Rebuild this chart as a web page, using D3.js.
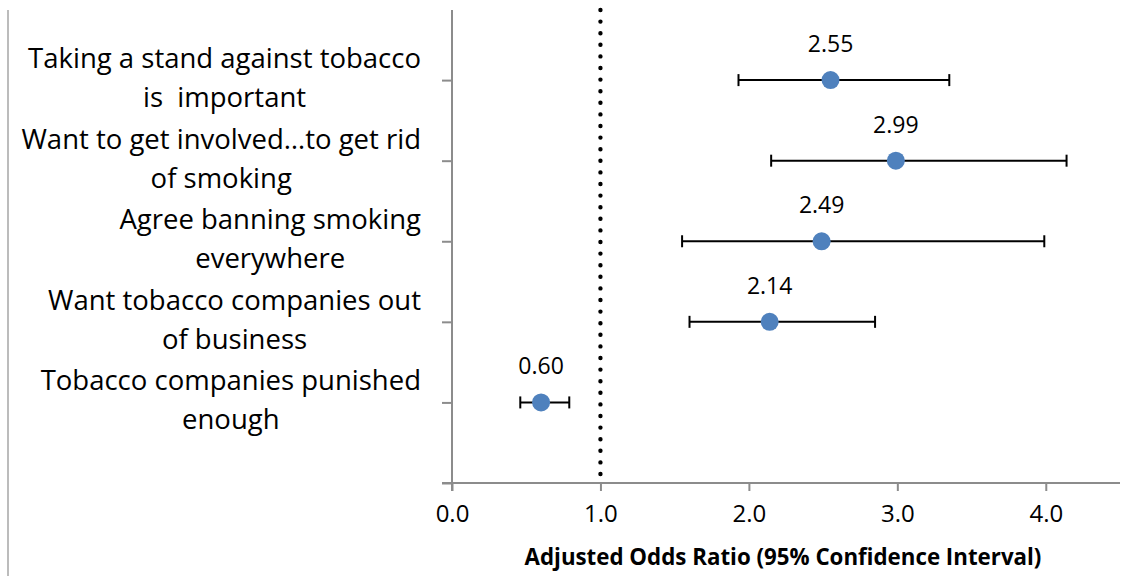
<!DOCTYPE html>
<html>
<head>
<meta charset="utf-8">
<script src="https://cdn.jsdelivr.net/npm/d3@7"></script>
<style>
  body { margin: 0; background: #fff; }
  svg text { font-family: "Open Sans", Lato, sans-serif; fill: #000; }
</style>
</head>
<body>
<svg id="chart" width="1148" height="583"></svg>
<script>
// category labels, one array of lines per row (top to bottom)
const categories = [
    ["Taking a stand against tobacco", "is  important"],
    ["Want to get involved\u2026to get rid", "of smoking"],
    ["Agree banning smoking", "everywhere"],
    ["Want tobacco companies out", "of business"],
    ["Tobacco companies punished", "enough"]
]
const rowPos = [5, 4, 3, 2, 1]
const oddsRatio = [2.55, 2.99, 2.49, 2.14, 0.60]
const ciLower = [1.93, 2.15, 1.55, 1.60, 0.46]
const ciUpper = [3.35, 4.14, 3.99, 2.85, 0.79]
const xTicks = [0, 1, 2, 3, 4]
const yTicks = [0, 1, 2, 3, 4, 5]
const refValue = 1
const xTitle = "Adjusted Odds Ratio (95% Confidence Interval)"

const svg = d3.select('#chart')
const axisColor = '#8c8c8c'

const x = d3.scaleLinear().domain([0, 4.5]).range([452, 1120])
const y = d3.scaleLinear().domain([0, 5.87]).range([483, 10])

// outer frame line on the left
svg.append('line')
    .attr('x1', 8).attr('x2', 8).attr('y1', 10).attr('y2', 576)
    .attr('stroke', '#a6a6a6').attr('stroke-width', 1.5)

// y axis (ticks only, labels drawn separately)
const yAxis = svg.append('g')
    .attr('transform', `translate(${x(0)},0)`)
    .call(d3.axisLeft(y).tickValues(yTicks).tickSize(10).tickSizeOuter(0).tickFormat(''))
yAxis.select('.domain').remove()
yAxis.selectAll('.tick line').attr('stroke', axisColor).attr('stroke-width', 2)
svg.append('line')
    .attr('x1', x(0)).attr('x2', x(0)).attr('y1', y(5.87)).attr('y2', y(0) + 8)
    .attr('stroke', axisColor).attr('stroke-width', 2)

// x axis
const xAxis = svg.append('g')
    .attr('transform', `translate(0,${y(0)})`)
    .call(d3.axisBottom(x).tickValues(xTicks).tickSize(8).tickSizeOuter(0).tickPadding(14).tickFormat(d3.format('.1f')))
xAxis.select('.domain').remove()
xAxis.selectAll('.tick line').attr('stroke', axisColor).attr('stroke-width', 2)
xAxis.selectAll('.tick text').attr('font-size', 24).attr('font-family', '"Open Sans"')
svg.append('line')
    .attr('x1', x(0) - 10).attr('x2', x(4.5)).attr('y1', y(0)).attr('y2', y(0))
    .attr('stroke', axisColor).attr('stroke-width', 2)

// reference line at odds ratio 1
svg.append('line')
    .attr('x1', x(refValue)).attr('x2', x(refValue))
    .attr('y1', y(5.87)).attr('y2', y(0))
    .attr('stroke', '#000').attr('stroke-width', 4.4)
    .attr('stroke-linecap', 'round').attr('stroke-dasharray', '0 11.6')

// category labels: block right-aligned, lines centered inside block
const labelRight = 421
const labelG = svg.append('g')
categories.forEach((lines, i) => {
    const g = labelG.append('g')
    const texts = lines.map((ln, j) => g.append('text')
        .attr('y', y(rowPos[i]) - 12 + j * 39)
        .attr('font-size', 27.5)
        .style('white-space', 'pre')
        .attr('text-anchor', 'middle')
        .text(ln))
    const w = d3.max(texts, t => t.node().getComputedTextLength())
    texts.forEach(t => t.attr('x', labelRight - w / 2))
})

// error bars
const bars = svg.append('g')
oddsRatio.forEach((v, i) => {
    const cy = y(rowPos[i])
    bars.append('line')
        .attr('x1', x(ciLower[i])).attr('x2', x(ciUpper[i]))
        .attr('y1', cy).attr('y2', cy)
        .attr('stroke', '#000').attr('stroke-width', 2)
    ;[ciLower[i], ciUpper[i]].forEach(c => {
        bars.append('line')
            .attr('x1', x(c)).attr('x2', x(c))
            .attr('y1', cy - 6).attr('y2', cy + 6)
            .attr('stroke', '#000').attr('stroke-width', 2)
    })
})

// points
svg.append('g').selectAll('circle')
    .data(oddsRatio)
    .join('circle')
    .attr('cx', d => x(d))
    .attr('cy', (d, i) => y(rowPos[i]))
    .attr('r', 9)
    .attr('fill', '#4f81bd')

// value labels
svg.append('g').selectAll('text')
    .data(oddsRatio)
    .join('text')
    .attr('x', d => x(d))
    .attr('y', (d, i) => y(rowPos[i]) - 28)
    .attr('text-anchor', 'middle')
    .attr('font-size', 23)
    .text(d => d3.format('.2f')(d))

// x axis title
svg.append('text')
    .attr('x', 783)
    .attr('y', 565)
    .attr('text-anchor', 'middle')
    .attr('font-size', 22.3)
    .attr('font-weight', 'bold')
    .text(xTitle)
</script>
</body>
</html>
